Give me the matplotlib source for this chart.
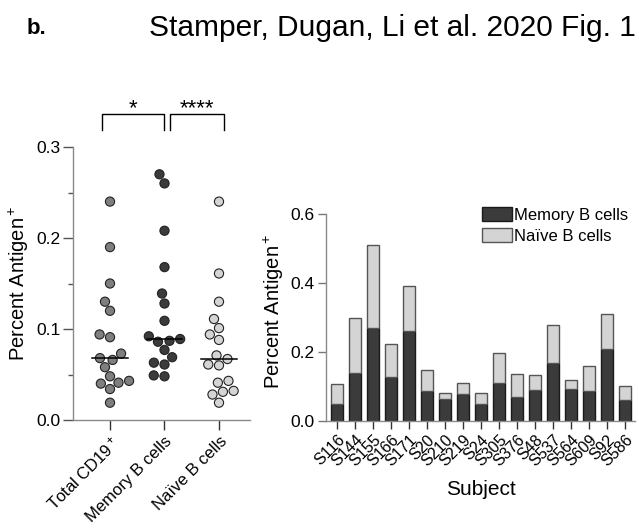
import numpy as np
import pandas as pd
import matplotlib
matplotlib.use('Agg')
import matplotlib.pyplot as plt
import seaborn as sns

plt.rcParams['font.family'] = ['Liberation Sans', 'DejaVu Sans']
plt.rcParams['mathtext.fontset'] = 'custom'
plt.rcParams['mathtext.rm'] = 'Liberation Sans'
plt.rcParams['mathtext.it'] = 'Liberation Sans'

# per-subject data (percent antigen+)
subjects = ['S116', 'S144', 'S155', 'S166', 'S171', 'S20', 'S210', 'S219', 'S24',
            'S305', 'S376', 'S48', 'S537', 'S564', 'S609', 'S92', 'S586']
memory_pct = [0.048, 0.139, 0.270, 0.128, 0.260, 0.086, 0.063, 0.077, 0.049,
              0.109, 0.069, 0.089, 0.168, 0.092, 0.087, 0.208, 0.061]
naive_pct = [0.060, 0.161, 0.240, 0.094, 0.130, 0.061, 0.019, 0.032, 0.031,
             0.088, 0.067, 0.043, 0.111, 0.028, 0.071, 0.101, 0.041]
total_cd19_pct = [0.240, 0.190, 0.150, 0.130, 0.120, 0.094, 0.091, 0.073, 0.068,
                  0.066, 0.058, 0.048, 0.043, 0.041, 0.040, 0.034, 0.019]

groups = ['Total CD19$^+$', 'Memory B cells', 'Naïve B cells']
group_colors = ['#7f7f7f', '#3b3b3b', '#d4d4d4']

fig = plt.figure(figsize=(6.39, 5.29), dpi=100)

# ---- left panel: dot plot ----
ax1 = fig.add_axes([73/639, 1-420/529, 177/639, 273/529])
df = pd.DataFrame({
    'group': [groups[0]]*len(total_cd19_pct) + [groups[1]]*len(memory_pct) + [groups[2]]*len(naive_pct),
    'value': total_cd19_pct + memory_pct + naive_pct,
})
ax1.set_xlim(-0.679, 2.569)
ax1.set_ylim(0, 0.3)
sns.swarmplot(data=df, x='group', y='value', hue='group', order=groups, hue_order=groups,
              palette=group_colors, size=6.6, edgecolor='#222222', linewidth=0.8,
              legend=False, ax=ax1, zorder=3)
ax1.set_xlim(-0.679, 2.569)
for i, vals in enumerate([total_cd19_pct, memory_pct, naive_pct]):
    med = np.median(vals)
    ax1.plot([i-0.33, i+0.33], [med, med], color='black', lw=1.1, zorder=4)

ax1.spines['top'].set_visible(False)
ax1.spines['right'].set_visible(False)
for s in ['left', 'bottom']:
    ax1.spines[s].set_color('#8a8a8a')
    ax1.spines[s].set_linewidth(1.0)
ax1.set_yticks([0.0, 0.1, 0.2, 0.3])
ax1.set_yticklabels(['0.0', '0.1', '0.2', '0.3'])
ax1.set_yticks([0.05, 0.15, 0.25], minor=True)
ax1.tick_params(axis='y', which='major', length=7, width=1, color='#555555', labelsize=12.5, pad=2)
ax1.tick_params(axis='y', which='minor', length=3.5, width=1, color='#555555')
ax1.set_xticks([0, 1, 2])
ax1.set_xticklabels(groups, rotation=45, ha='right', rotation_mode='anchor', fontsize=12)
ax1.tick_params(axis='x', length=7, width=1, color='#333333', pad=3)
ax1.set_xlabel('')
ax1.set_ylabel('Percent Antigen$^+$', fontsize=14.5, labelpad=4)

# significance brackets
for (x0, x1, label) in [(-0.15, 1.0, '*'), (1.1, 2.1, '****')]:
    ax1.plot([x0, x0, x1, x1], [0.319, 0.336, 0.336, 0.319], color='black', lw=1, clip_on=False)
    ax1.text((x0+x1)/2, 0.331, label, ha='center', va='bottom', fontsize=16)

# ---- right panel: stacked bars ----
ax2 = fig.add_axes([326/639, 1-421/529, 309/639, 207/529])
x = np.arange(len(subjects))
ax2.bar(x, memory_pct, width=0.62, color='#3b3b3b', edgecolor='#1a1a1a', lw=1,
        label='Memory B cells', zorder=2)
ax2.bar(x, naive_pct, width=0.62, bottom=memory_pct, color='#d4d4d4', edgecolor='#555555',
        lw=1, label='Naïve B cells', zorder=2)
ax2.set_xlim(-0.61, 16.56)
ax2.set_ylim(0, 0.6)
ax2.spines['top'].set_visible(False)
ax2.spines['right'].set_visible(False)
for s in ['left', 'bottom']:
    ax2.spines[s].set_color('#8a8a8a')
    ax2.spines[s].set_linewidth(1.0)
ax2.set_yticks([0.0, 0.2, 0.4, 0.6])
ax2.set_yticklabels(['0.0', '0.2', '0.4', '0.6'])
ax2.tick_params(axis='y', length=6, width=1, color='#777777', labelsize=12.5, pad=2)
ax2.set_xticks(x)
ax2.set_xticklabels(subjects, rotation=45, ha='right', rotation_mode='anchor', fontsize=11.5)
ax2.tick_params(axis='x', length=6, width=1, color='#333333', pad=2)
ax2.set_ylabel('Percent Antigen$^+$', fontsize=14.5, labelpad=4)
ax2.yaxis.set_label_coords(-0.13, 0.53)
ax2.set_xlabel('Subject', fontsize=15, labelpad=8)
ax2.legend(loc='upper right', bbox_to_anchor=(1.0, 1.065), frameon=False, fontsize=12,
           handlelength=1.8, handleheight=0.9, handletextpad=0.15, labelspacing=0.3,
           borderaxespad=0)

# ---- header text ----
fig.text(27/639, 1-28/529, 'b.', fontsize=16, fontweight='bold', ha='left', va='center')
fig.text(149/639, 1-28/529, 'Stamper, Dugan, Li et al. 2020 Fig. 1', fontsize=21.5,
         ha='left', va='center')

fig.savefig('out.png', dpi=100)
